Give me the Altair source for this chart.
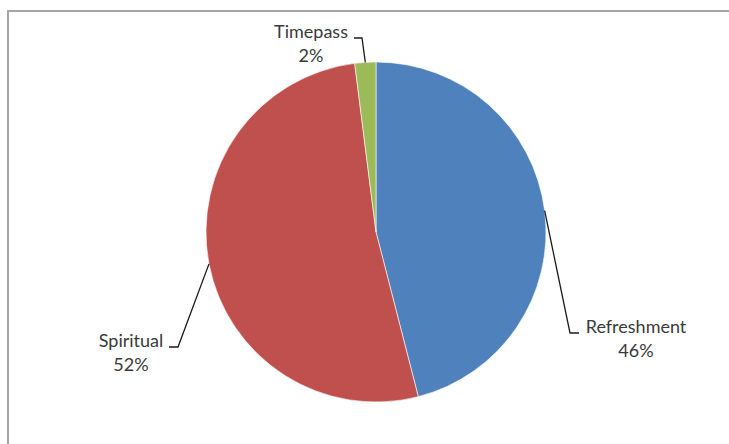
import math
import altair as alt
import pandas as pd

# ---- data ----
categories = ["Refreshment", "Spiritual", "Timepass"]
values = [46, 52, 2]
colors = ["#4F81BD", "#C0504D", "#9BBB59"]

# ---- layout (pixels) ----
W, H = 729, 444
CX, CY, R = 376, 232, 170
# label text centre x, first baseline y, leader elbow and leader end
label_layout = {
    "Refreshment": dict(tx=636, ty=333, ex=570, ey=333, hx=579),
    "Spiritual": dict(tx=131, ty=347, ex=178, ey=347, hx=169),
    "Timepass": dict(tx=311, ty=38, ex=362, ey=38, hx=354),
}
LINE_GAP = 24
FONT = "Lato"
FSIZE = 18

pie_df = pd.DataFrame({"category": categories, "value": values, "idx": list(range(len(categories)))})

# leader lines start at slice mid-angle on the pie edge (derived from data)
total = sum(values)
rows_line, rows_text = [], []
cum = 0
for c, v in zip(categories, values):
    mid = (cum + v / 2) / total * 2 * math.pi
    cum += v
    sx = CX + R * math.sin(mid)
    sy = CY - R * math.cos(mid)
    L = label_layout[c]
    rows_line += [
        dict(category=c, k=0, px=sx, py=sy),
        dict(category=c, k=1, px=L["ex"], py=L["ey"]),
        dict(category=c, k=2, px=L["hx"], py=L["ey"]),
    ]
    rows_text += [
        dict(category=c, txt=c, px=L["tx"], py=L["ty"]),
        dict(category=c, txt=f"{v}%", px=L["tx"], py=L["ty"] + LINE_GAP),
    ]
line_df = pd.DataFrame(rows_line)
text_df = pd.DataFrame(rows_text)

border = alt.Chart(pd.DataFrame({"a": [0]})).mark_rect(
    fill="transparent", stroke="#A6A6A6", strokeWidth=2
).encode(x=alt.value(8), y=alt.value(11), x2=alt.value(W + 40), y2=alt.value(H + 40))

pie = alt.Chart(pie_df).mark_arc(radius=R, stroke="white", strokeWidth=0.6).encode(
    theta=alt.Theta("value:Q", stack=True),
    color=alt.Color("category:N", scale=alt.Scale(domain=categories, range=colors), legend=None),
    order=alt.Order("idx:Q"),
    x=alt.value(CX),
    y=alt.value(CY),
)

leaders = alt.Chart(line_df).mark_line(color="#1a1a1a", strokeWidth=1.3).encode(
    x=alt.X("px:Q", scale=None, axis=None),
    y=alt.Y("py:Q", scale=None, axis=None),
    detail="category:N",
    order="k:Q",
)

labels = alt.Chart(text_df).mark_text(
    font=FONT, fontSize=FSIZE, color="#3a3a3a", align="center", baseline="alphabetic"
).encode(
    x=alt.X("px:Q", scale=None, axis=None),
    y=alt.Y("py:Q", scale=None, axis=None),
    text="txt:N",
)

chart = alt.layer(border, pie, leaders, labels).properties(
    width=W, height=H, autosize=alt.AutoSizeParams(type="none"), padding=0, background="white"
).configure_view(strokeWidth=0)

chart.save("out.html", embed_options={"renderer": "svg", "actions": False})
